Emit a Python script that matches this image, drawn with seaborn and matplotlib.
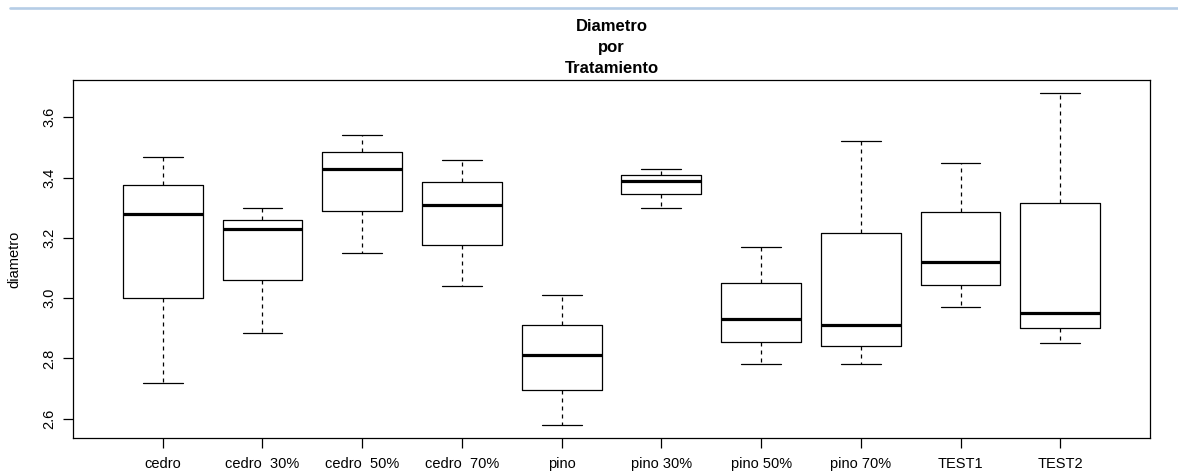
import numpy as np
import pandas as pd
import matplotlib
matplotlib.use("Agg")
import matplotlib.pyplot as plt
from matplotlib.lines import Line2D
import seaborn as sns

# Treatment groups (x axis order)
tratamientos = ["cedro", "cedro  30%", "cedro  50%", "cedro  70%", "pino",
                "pino 30%", "pino 50%", "pino 70%", "TEST1", "TEST2"]

# Diameter summary per treatment: minimum, lower quartile, median, upper quartile, maximum
minimo  = [2.72, 2.885, 3.15, 3.04, 2.58, 3.30, 2.78, 2.78, 2.97, 2.85]
q1      = [3.00, 3.06, 3.29, 3.175, 2.695, 3.345, 2.855, 2.84, 3.045, 2.90]
mediana = [3.28, 3.23, 3.43, 3.31, 2.81, 3.39, 2.93, 2.91, 3.12, 2.95]
q3      = [3.375, 3.26, 3.485, 3.385, 2.91, 3.41, 3.05, 3.215, 3.285, 3.315]
maximo  = [3.47, 3.30, 3.54, 3.46, 3.01, 3.43, 3.17, 3.52, 3.45, 3.68]

y_ticks = [2.6, 2.8, 3.0, 3.2, 3.4, 3.6]

# Long-form table: five observations per treatment
rows = []
for i, t in enumerate(tratamientos):
    for v in (minimo[i], q1[i], mediana[i], q3[i], maximo[i]):
        rows.append({"tratamiento": t, "diametro": v})
df = pd.DataFrame(rows)

sns.set_theme(style="white")
plt.rcParams["font.family"] = ["Liberation Sans", "DejaVu Sans"]

W, H = 1178, 476
fig = plt.figure(figsize=(W / 100, H / 100), dpi=100)
ax = fig.add_axes([73 / W, 1 - 438 / H, (1150 - 73) / W, (438 - 80) / H])

lw = 0.9
sns.boxplot(
    data=df, x="tratamiento", y="diametro", order=tratamientos,
    fill=False, color="black", linecolor="black", linewidth=lw,
    width=0.8, whis=(0, 100), showfliers=False, ax=ax,
    medianprops=dict(linewidth=2.3, color="black", solid_capstyle="butt"),
    whiskerprops=dict(linestyle=(0, (3.2, 3.2)), color="black"),
    capprops=dict(linestyle="-", color="black"),
    boxprops=dict(color="black"),
)

# Axis ranges with 4% padding around the data
lo, hi = min(minimo), max(maximo)
pad = 0.04 * (hi - lo)
ax.set_ylim(lo - pad, hi + pad)
n = len(tratamientos)
ax.set_xlim(-0.5 - 0.04 * n, n - 0.5 + 0.04 * n)

ax.set_yticks(y_ticks)
ax.set_yticklabels([f"{v:.1f}" for v in y_ticks], rotation=90, va="center")
ax.set_xticks(range(n))
ax.set_xticklabels(tratamientos)

ax.tick_params(axis="both", direction="out", length=7, width=lw, color="black",
               labelsize=10.5, labelcolor="black")
ax.tick_params(axis="y", pad=5, left=True)
ax.tick_params(axis="x", pad=7, bottom=True)

for s in ax.spines.values():
    s.set_color("black")
    s.set_linewidth(lw)
    s.set_visible(True)

ax.set_xlabel("")
ax.set_ylabel("diametro", fontsize=10.5, color="black")
ax.yaxis.set_label_coords(-0.048, 0.5)

# Three-line bold title centred over the plot area
fig.text((73 + 1150) / 2 / W, 1 - 19 / H, "Diametro\npor\nTratamiento",
         ha="center", va="top", fontsize=12, fontweight="bold", color="black",
         linespacing=1.52)

# Thin page rule across the top
fig.add_artist(Line2D([10 / W, 1.0], [1 - 8 / H, 1 - 8 / H],
                      transform=fig.transFigure, color="#b5cde6", linewidth=1.9))

fig.savefig("out.png", dpi=100)
